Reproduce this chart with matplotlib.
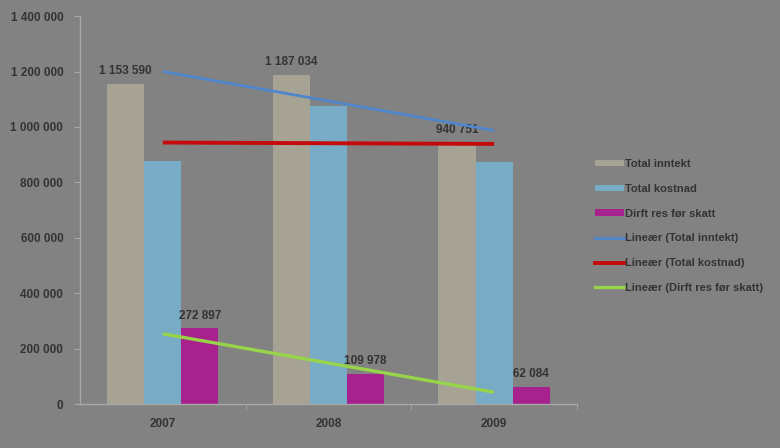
import numpy as np
import matplotlib
matplotlib.use("Agg")
import matplotlib.pyplot as plt
from matplotlib.patches import Patch
from matplotlib.lines import Line2D

years = ["2007", "2008", "2009"]
total_inntekt = [1153590, 1187034, 940751]
total_kostnad = [877000, 1075000, 872000]
dirft_res = [272897, 109978, 62084]
series_names = ["Total inntekt", "Total kostnad", "Dirft res før skatt"]
trend_names = ["Lineær (Total inntekt)", "Lineær (Total kostnad)", "Lineær (Dirft res før skatt)"]
yticks = [0, 200000, 400000, 600000, 800000, 1000000, 1200000, 1400000]

bar_colors = ["#a6a394", "#78abc6", "#a8228e"]
trend_colors = ["#4f86cc", "#c40a0a", "#98d44a"]
trend_widths = [2.0, 2.8, 2.4]
bg = "#828282"
txt = "#333333"

def fmt(v):
    return f"{int(v):,}".replace(",", " ")

plt.rcParams['font.family'] = ['Liberation Sans', 'DejaVu Sans']

fig = plt.figure(figsize=(7.8, 4.48), dpi=100, facecolor=bg)
ax = fig.add_axes([0.1026, 0.098, 0.637, 0.866], facecolor=bg)

x = np.arange(len(years))
w = 0.224
series = [total_inntekt, total_kostnad, dirft_res]
for i, (vals, c) in enumerate(zip(series, bar_colors)):
    bars = ax.bar(x + (i - 1) * w, vals, width=w, color=c, zorder=2)
    if i in (0, 2):
        for b, v in zip(bars, vals):
            ax.annotate(fmt(v), (b.get_x() + b.get_width() / 2, v),
                        xytext=(0, 5), textcoords="offset points",
                        ha="center", va="bottom", fontsize=8.5,
                        color=txt, fontweight="bold")

for vals, c, lw in zip(series, trend_colors, trend_widths):
    k, m = np.polyfit(x, vals, 1)
    ax.plot(x, k * x + m, color=c, lw=lw, zorder=3, solid_capstyle="butt")

ax.set_xlim(-0.5, 2.5)
ax.set_ylim(0, 1400000)
ax.set_yticks(yticks)
ax.set_yticklabels([fmt(v) for v in yticks], fontsize=8.5, color=txt, fontweight="bold")
ax.set_xticks(x)
ax.set_xticklabels(years, fontsize=8.5, color=txt, fontweight="bold")
ax.tick_params(axis="x", length=0, pad=10)
ax.set_xticks([0.5, 1.5, 2.5], minor=True)
ax.tick_params(axis="x", which="minor", length=4, color="#a8a8a8", direction="out")
ax.tick_params(axis="y", length=4, color="#a8a8a8", direction="out", pad=8)

for s in ["top", "right"]:
    ax.spines[s].set_visible(False)
for s in ["left", "bottom"]:
    ax.spines[s].set_color("#a8a8a8")
    ax.spines[s].set_linewidth(1.0)

handles = [Patch(facecolor=c, edgecolor="none") for c in bar_colors]
handles += [Line2D([0], [0], color=c, lw=lw) for c, lw in zip(trend_colors, trend_widths)]
labels = series_names + trend_names
leg = fig.legend(handles, labels, loc="upper left", bbox_to_anchor=(0.757, 0.655),
                 frameon=False, fontsize=8, handlelength=2.6, handleheight=0.5,
                 handletextpad=0.15, labelspacing=1.33, borderaxespad=0)
for t in leg.get_texts():
    t.set_color(txt)
    t.set_fontweight("bold")

fig.savefig("out.png", dpi=100, facecolor=bg)
